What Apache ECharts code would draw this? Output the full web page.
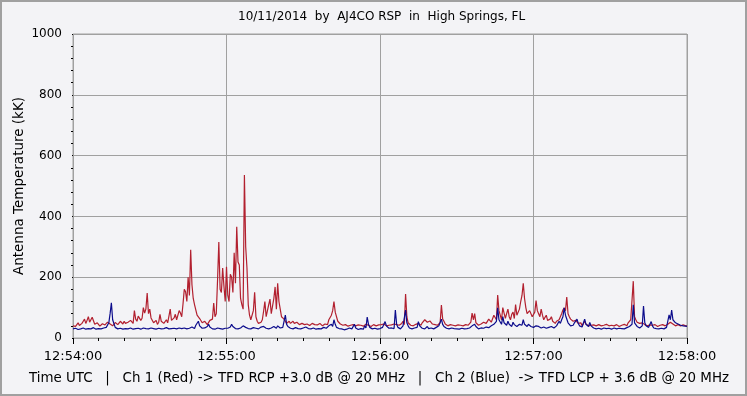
<!DOCTYPE html>
<html>
<head>
<meta charset="utf-8">
<script src="https://cdn.jsdelivr.net/npm/echarts@6/dist/echarts.min.js"></script>
<style>
html,body{margin:0;padding:0;background:#f3f3f6;}
#chart{width:747px;height:396px;}
</style>
</head>
<body>
<div id="chart"></div>
<script>
// ---- data (one sample every 0.5 s, starting 12:54:00 UTC) ----
const titleText = '10/11/2014  by  AJ4CO RSP  in  High Springs, FL';
const footerText = 'Time UTC   |   Ch 1 (Red) -> TFD RCP +3.0 dB @ 20 MHz   |   Ch 2 (Blue)  -> TFD LCP + 3.6 dB @ 20 MHz';
const yAxisTitle = 'Antenna Temperature (kK)';
const xTickLabels = ['12:54:00', '12:55:00', '12:56:00', '12:57:00', '12:58:00'];
const yTickLabels = ['0', '200', '400', '600', '800', '1000'];
const sampleStepSec = 0.5;

const ch1Red = [
  40,46,38,44,50,41,42,48,55,62,48,58,70,52,55,68,66,45,42,50,
  45,39,38,47,50,43,44,52,58,46,45,40,40,51,48,44,42,55,50,46,
  55,48,45,52,50,58,60,48,90,62,55,72,70,58,65,100,82,96,148,80,
  95,66,60,50,50,58,45,52,78,55,55,48,45,60,50,72,95,58,60,66,
  78,60,55,90,82,70,112,160,152,120,200,140,290,175,130,110,110,75,70,64,
  62,50,45,55,50,44,42,58,55,62,115,70,80,190,316,160,150,230,170,120,
  234,140,120,210,200,150,280,180,366,250,240,130,110,95,536,300,230,110,75,60,
  65,90,150,70,55,48,45,52,60,88,120,70,75,110,128,80,85,130,168,95,
  180,120,95,70,70,62,62,48,50,55,48,44,55,48,45,52,50,44,42,48,
  48,44,40,46,45,41,42,48,50,44,40,43,45,48,42,40,40,46,50,44,
  60,55,75,90,120,85,80,55,50,46,45,42,40,44,42,39,38,42,40,44,
  45,40,38,43,40,42,42,39,40,45,48,42,40,38,38,44,42,40,40,43,
  40,44,42,46,45,40,40,42,38,43,42,46,50,44,40,42,42,48,55,44,
  145,70,50,44,42,46,40,43,45,48,48,44,42,50,55,60,60,52,50,56,
  58,46,42,44,40,42,45,50,108,62,55,46,42,40,40,44,38,42,42,40,
  40,43,38,42,42,40,40,44,38,42,45,52,82,60,80,50,45,42,42,46,
  45,52,55,48,50,62,65,52,55,75,70,60,141,90,75,60,100,82,65,80,
  95,70,60,78,85,64,110,75,70,95,120,140,180,130,100,80,75,90,95,70,
  70,85,123,90,80,70,95,75,60,68,75,58,55,62,70,55,50,48,55,52,
  60,70,80,92,99,90,135,80,70,62,60,55,50,58,62,48,45,50,40,44,
  55,46,42,40,45,42,40,43,42,40,38,44,44,40,40,42,42,45,46,40,
  40,42,38,40,42,44,40,38,44,42,40,45,42,40,50,48,60,55,187,70,
  60,52,55,48,45,50,50,44,42,40,40,43,45,42,40,44,42,38,38,42,
  40,44,42,40,40,45,45,52,50,46,42,40,40,44,42,40,40,43,42,40,
  40
];

const ch2Blue = [
  30,33,32,28,28,31,30,34,33,29,29,32,31,30,30,33,34,29,29,32,
  31,28,30,33,33,30,35,32,50,80,116,60,55,35,33,30,30,32,32,29,
  29,31,31,30,30,33,33,29,29,31,35,32,32,29,30,33,38,31,33,30,
  30,33,29,31,31,29,30,32,32,30,29,31,31,34,33,30,30,31,29,32,
  34,30,31,33,38,31,30,33,32,30,30,32,33,36,35,31,42,48,55,40,
  38,32,30,33,35,38,45,36,32,30,30,29,29,33,33,31,31,29,30,32,
  30,32,33,36,45,38,35,31,32,30,30,33,36,40,40,35,35,31,32,30,
  30,34,38,32,31,30,33,36,42,38,35,32,31,30,30,33,33,38,36,32,
  40,34,33,36,35,40,75,45,38,33,32,30,30,34,34,31,31,29,30,32,
  33,30,36,32,31,29,30,33,33,30,29,31,31,28,30,32,35,30,32,31,
  40,35,45,38,60,45,35,31,31,29,30,28,27,30,29,31,33,30,30,32,
  45,33,30,28,28,31,31,29,40,33,69,45,35,31,30,33,32,29,29,31,
  31,30,35,33,54,40,38,32,30,33,33,31,92,45,35,31,30,33,40,35,
  92,50,40,33,32,30,30,33,38,35,54,40,35,32,32,30,36,38,31,33,
  33,30,30,32,35,38,40,36,62,45,38,33,32,30,30,33,33,29,31,30,
  30,33,29,31,32,30,30,32,31,30,33,35,40,36,45,38,32,30,30,33,
  35,32,33,36,38,34,36,40,40,45,45,55,99,60,55,45,70,50,45,42,
  55,45,40,38,52,44,42,38,38,45,50,42,60,45,40,38,45,40,38,36,
  35,38,40,36,38,34,33,36,36,33,32,35,35,40,38,33,33,36,40,38,
  55,48,60,70,99,75,70,50,45,40,38,42,50,45,62,48,40,36,36,33,
  62,45,40,38,51,40,35,33,32,30,30,32,31,29,30,33,29,31,30,32,
  32,29,30,33,31,30,30,32,33,31,31,30,30,34,40,38,40,45,109,50,
  45,38,35,33,38,40,105,50,40,36,35,33,54,40,33,31,31,30,30,33,
  32,30,30,33,35,38,76,60,92,60,55,50,48,46,45,42,42,40,40,39,
  38
];

const redSeries = ch1Red.map((v, i) => [i * sampleStepSec, v]);
const blueSeries = ch2Blue.map((v, i) => [i * sampleStepSec, v]);

const FONT = 'DejaVu Sans';
const chart = echarts.init(document.getElementById('chart'), null, {renderer: 'canvas'});
chart.setOption({
  animation: false,
  backgroundColor: '#f3f3f6',
  textStyle: {fontFamily: FONT, color: '#000'},
  grid: {left: 73, right: 60, top: 34, bottom: 58, show: true, borderColor: '#a0a0a0', borderWidth: 1, backgroundColor: 'transparent'},
  graphic: [
    {type: 'rect', shape: {x: 1, y: 1, width: 745, height: 394}, style: {fill: 'none', stroke: '#a0a0a0', lineWidth: 2}, silent: true},
    {type: 'text', left: 238, top: 11, style: {text: titleText, font: '12px "' + FONT + '"', fill: '#000'}},
    {type: 'text', left: 29, top: 372, style: {text: footerText, font: '13.4px "' + FONT + '"', fill: '#000'}}
  ],
  xAxis: {
    type: 'value', min: 0, max: 240, interval: 60, offset: 4,
    axisLine: {show: false},
    axisTick: {show: true, length: 6, lineStyle: {color: '#000'}},
    minorTick: {show: true, splitNumber: 6, length: 3, lineStyle: {color: '#000'}},
    axisLabel: {margin: 8, fontFamily: FONT, fontSize: 13, color: '#000', formatter: v => xTickLabels[Math.round(v / 60)]},
    splitLine: {show: true, lineStyle: {color: '#a0a0a0', width: 1}}
  },
  yAxis: {
    type: 'value', min: 0, max: 1000, interval: 200, offset: 5,
    name: yAxisTitle, nameLocation: 'middle', nameGap: 42, nameRotate: 90, nameMoveOverlap: false,
    nameTextStyle: {fontFamily: FONT, fontSize: 13.5, color: '#000'},
    axisLine: {show: false},
    axisTick: {show: true, length: 1, lineStyle: {color: '#000'}},
    minorTick: {show: true, splitNumber: 5, length: 2, lineStyle: {color: '#000'}},
    axisLabel: {margin: 6, fontFamily: FONT, fontSize: 12, color: '#000', formatter: v => yTickLabels[Math.round(v / 200)]},
    splitLine: {show: true, lineStyle: {color: '#a0a0a0', width: 1}}
  },
  series: [
    {name: 'Ch 1 (Red)', type: 'line', data: redSeries, showSymbol: false, sampling: null,
     lineStyle: {color: '#b2202f', width: 1.2}, itemStyle: {color: '#b2202f'}, z: 2},
    {name: 'Ch 2 (Blue)', type: 'line', data: blueSeries, showSymbol: false,
     lineStyle: {color: '#0c0c8c', width: 1.2}, itemStyle: {color: '#0c0c8c'}, z: 3}
  ]
});
</script>
</body>
</html>
